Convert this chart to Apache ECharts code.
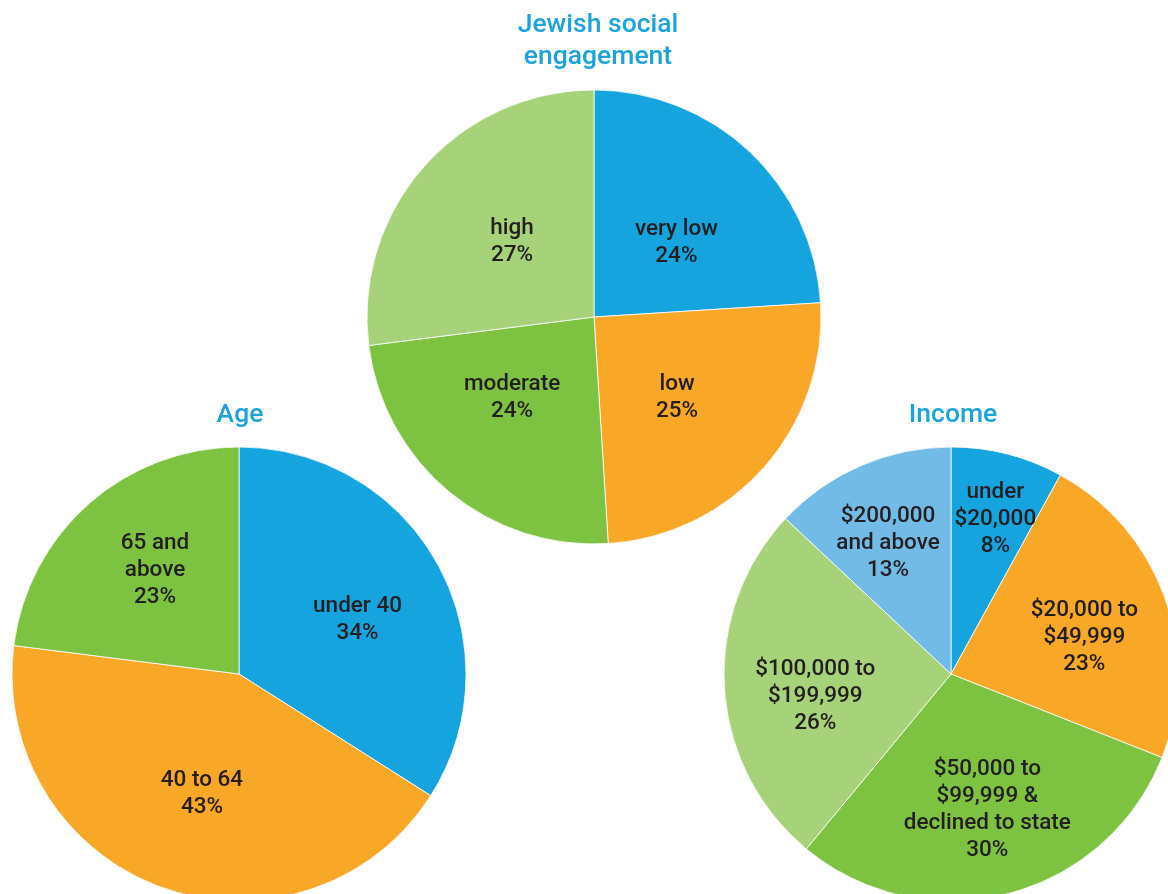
<!DOCTYPE html>
<html>
<head>
<meta charset="utf-8">
<script src="https://cdn.jsdelivr.net/npm/echarts@6/dist/echarts.min.js"></script>
<style>
html,body{margin:0;padding:0;background:#fff;}
#chart{width:1168px;height:894px;}
</style>
</head>
<body>
<div id="chart"></div>
<script>
// ---- data ----
const engagementTitle = 'Jewish social\nengagement';
const engagementNames = ['very low', 'low', 'moderate', 'high'];
const engagementValues = [24, 25, 24, 27];

const ageTitle = 'Age';
const ageNames = ['under 40', '40 to 64', '65 and\nabove'];
const ageValues = [34, 43, 23];

const incomeTitle = 'Income';
const incomeNames = ['under\n$20,000', '$20,000 to\n$49,999', '$50,000 to\n$99,999 &\ndeclined to state', '$100,000 to\n$199,999', '$200,000\nand above'];
const incomeValues = [8, 23, 30, 26, 13];

// ---- styles ----
const BLUE = '#15a4de', ORANGE = '#f9a727', GREEN = '#7ec242', LGREEN = '#a6d279', LBLUE = '#72bbe6';
const engagementColors = [BLUE, ORANGE, GREEN, LGREEN];
const ageColors = [BLUE, ORANGE, GREEN];
const incomeColors = [BLUE, ORANGE, GREEN, LGREEN, LBLUE];
// small label nudges (px) to match the original placement
const engagementNudge = [[3, 10], [-4, 4], [-8, -9], [5, 2]];
const ageNudge = [[2, 10], [8, -5], [4, -4]];
const incomeNudge = [[8, -13], [-4, 13], [0, -6], [10, 13], [-5, 3]];
const FONT = 'Roboto';
const TITLE_COLOR = '#1ba3dd';
const LABEL_COLOR = '#231f20';

function mk(names, values, colors, nudge) {
  return names.map((n, i) => {
    const d = { name: n, value: values[i], itemStyle: { color: colors[i] } };
    if (nudge) d.label = { offset: nudge[i] };
    return d;
  });
}

const labelStyle = {
  show: true,
  position: 'inside',
  formatter: p => p.name + '\n' + p.value + '%',
  color: LABEL_COLOR,
  fontFamily: FONT,
  fontSize: 22.5,
  fontWeight: 500,
  lineHeight: 27
};

function piePair(center, r, labelR, names, values, colors, nudge) {
  return [
    {
      type: 'pie', center: center, radius: [0, r], startAngle: 90, clockwise: true,
      silent: true, animation: false,
      data: mk(names, values, colors),
      itemStyle: { borderColor: 'rgba(255,255,255,0.8)', borderWidth: 1 },
      label: { show: false }, labelLine: { show: false }
    },
    {
      type: 'pie', center: center, radius: [0, labelR * 2], startAngle: 90, clockwise: true,
      silent: true, animation: false,
      data: mk(names, values, colors.map(() => 'rgba(0,0,0,0)'), nudge),
      itemStyle: { borderWidth: 0 },
      label: labelStyle, labelLine: { show: false }
    }
  ];
}

const chart = echarts.init(document.getElementById('chart'));
const titleText = { color: TITLE_COLOR, fontFamily: FONT, fontSize: 26.5, fontWeight: 500, lineHeight: 32 };
chart.setOption({
  animation: false,
  title: [
    { text: engagementTitle, left: 593, top: 4, textAlign: 'center', textStyle: titleText },
    { text: ageTitle, left: 235, top: 394, textAlign: 'center', textStyle: titleText },
    { text: incomeTitle, left: 948, top: 394, textAlign: 'center', textStyle: titleText }
  ],
  series: [
    ...piePair([594, 317], 227, 113, engagementNames, engagementValues, engagementColors, engagementNudge),
    ...piePair([239, 674], 227, 130, ageNames, ageValues, ageColors, ageNudge),
    ...piePair([951, 674], 227, 143, incomeNames, incomeValues, incomeColors, incomeNudge)
  ]
});
</script>
</body>
</html>
